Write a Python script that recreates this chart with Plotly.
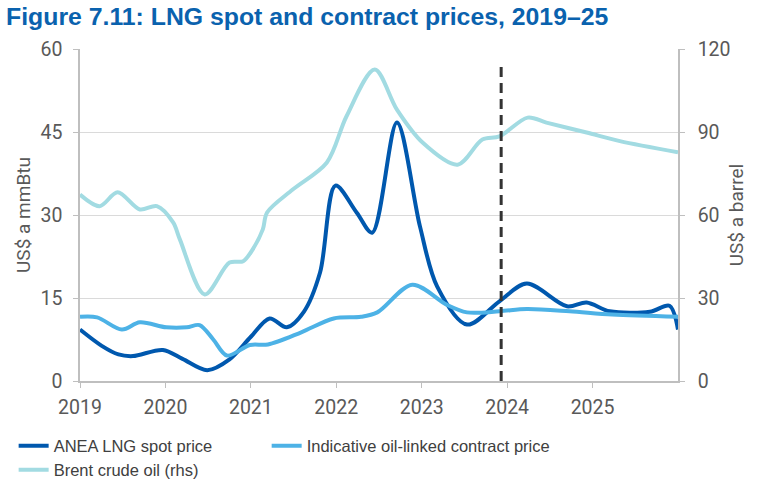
import plotly.graph_objects as go

# ANEA LNG spot price (US$/mmBtu)
spot_x = [2019.00, 2019.25, 2019.45, 2019.62, 2019.97, 2020.20, 2020.49, 2020.75, 2021.00, 2021.22,
          2021.42, 2021.62, 2021.81, 2021.99, 2022.24, 2022.42, 2022.71, 2022.98, 2023.18, 2023.53,
          2023.91, 2024.23, 2024.70, 2024.93, 2025.20, 2025.67, 2025.90, 2026.00]
spot_y = [9.3, 6.4, 4.8, 4.5, 5.6, 4.0, 1.95, 3.9, 8.0, 11.3,
          9.7, 12.5, 19.6, 35.3, 30.4, 26.8, 46.7, 27.9, 17.1, 10.2,
          14.4, 17.6, 13.5, 14.2, 12.6, 12.5, 13.6, 9.3]

# Indicative oil-linked contract price (US$/mmBtu)
contract_x = [2019.00, 2019.20, 2019.49, 2019.70, 2020.01, 2020.25, 2020.40, 2020.56, 2020.72, 2020.99,
              2021.20, 2021.59, 2021.97, 2022.29, 2022.48, 2022.89, 2023.29, 2023.53, 2023.91, 2024.23,
              2024.73, 2025.23, 2026.00]
contract_y = [11.6, 11.5, 9.3, 10.6, 9.7, 9.7, 10.1, 7.5, 4.6, 6.5,
              6.6, 8.8, 11.3, 11.6, 12.4, 17.4, 13.8, 12.4, 12.6, 13.0,
              12.6, 12.0, 11.6]

# Brent crude oil (US$/barrel, rhs)
brent_x = [2019.00, 2019.23, 2019.44, 2019.70, 2019.90, 2020.09, 2020.17, 2020.46, 2020.75, 2020.91,
           2021.02, 2021.14, 2021.19, 2021.49, 2021.89, 2022.12, 2022.45, 2022.71, 2023.01, 2023.42,
           2023.71, 2023.91, 2024.24, 2024.46, 2024.93, 2025.32, 2026.00]
brent_y = [67.4, 63.2, 68.2, 62.0, 63.2, 57.3, 51.1, 31.3, 42.8, 43.3,
           47.5, 54.8, 60.9, 69.2, 79.0, 95.7, 112.6, 98.1, 86.2, 78.2,
           87.3, 88.4, 95.2, 93.4, 89.8, 86.7, 82.7]

years = [2019, 2020, 2021, 2022, 2023, 2024, 2025]
year_labels = [str(y) for y in years]
left_ticks = [0, 15, 30, 45, 60]
right_ticks = [0, 30, 60, 90, 120]
forecast_start = 2023.93

GRAY = "#595959"
AXIS = "#BFBFBF"
TICKFONT = dict(size=19.5, color=GRAY, family="Roboto, Liberation Sans, Arial")
LEGFONT = dict(size=16.5, color="#404040", family="Liberation Sans Narrow, Liberation Sans, Arial")

fig = go.Figure()
fig.add_trace(go.Scatter(x=brent_x, y=brent_y, name="Brent crude oil (rhs)", mode="lines", yaxis="y2",
                         legend="legend3", showlegend=True,
                         line=dict(color="#A2DBE2", width=4, shape="spline", smoothing=0.9)))
fig.add_trace(go.Scatter(x=spot_x, y=spot_y, name="ANEA LNG spot price", mode="lines",
                         legend="legend", showlegend=True,
                         line=dict(color="#0058AE", width=4, shape="spline", smoothing=0.9)))
fig.add_trace(go.Scatter(x=contract_x, y=contract_y, name="Indicative oil-linked contract price", mode="lines",
                         legend="legend2", showlegend=True,
                         line=dict(color="#4DB2E6", width=4, shape="spline", smoothing=0.9)))

fig.add_shape(type="line", xref="x", yref="y", x0=forecast_start, x1=forecast_start, y0=0, y1=57.7,
              line=dict(color="#333333", width=3, dash="10px,6px"))

LEG_COMMON = dict(orientation="h", xref="container", yref="container", xanchor="left",
                  yanchor="middle", font=LEGFONT, bgcolor="rgba(0,0,0,0)")

fig.update_layout(
    width=758, height=491,
    showlegend=True,
    margin=dict(l=80, r=80, t=49, b=110),
    plot_bgcolor="white", paper_bgcolor="white",
    font=dict(family="Roboto, Liberation Sans, Arial, sans-serif", color=GRAY),
    title=dict(text="<b>Figure 7.11: LNG spot and contract prices, 2019–25</b>",
               x=0.008, xanchor="left", xref="container", y=1 - 16.5 / 491, yanchor="middle", yref="container",
               font=dict(size=24.8, color="#0A62AE", family="Liberation Sans, Arial, sans-serif")),
    xaxis=dict(range=[2019, 2026], tickvals=years, ticktext=year_labels, showgrid=False, automargin=False,
               showline=True, linecolor=AXIS, linewidth=1.5, ticks="outside", ticklen=5, tickcolor=AXIS,
               tickfont=TICKFONT, ticklabelstandoff=3, zeroline=False),
    yaxis=dict(range=[0, 60], tickvals=left_ticks, showgrid=True, gridcolor="#DADADA", gridwidth=1,
               automargin=False,
               showline=True, linecolor=AXIS, linewidth=1.5, ticks="outside", ticklen=5, tickcolor=AXIS,
               tickfont=TICKFONT, ticklabelstandoff=7, zeroline=False,
               title=dict(text="US$ a mmBtu", font=dict(size=19, color=GRAY), standoff=5)),
    yaxis2=dict(range=[0, 120], tickvals=right_ticks, overlaying="y", side="right", showgrid=False,
                automargin=False,
                showline=True, linecolor=AXIS, linewidth=1.5, ticks="outside", ticklen=5, tickcolor=AXIS,
                tickfont=TICKFONT, ticklabelstandoff=9, zeroline=False,
                title=dict(text="US$ a barrel", font=dict(size=19, color=GRAY), standoff=0)),
    legend=dict(x=0.018, y=1 - 446 / 491, **LEG_COMMON),
    legend2=dict(x=0.3518, y=1 - 446 / 491, **LEG_COMMON),
    legend3=dict(x=0.018, y=1 - 470 / 491, **LEG_COMMON),
)

fig.write_html("out.html")
